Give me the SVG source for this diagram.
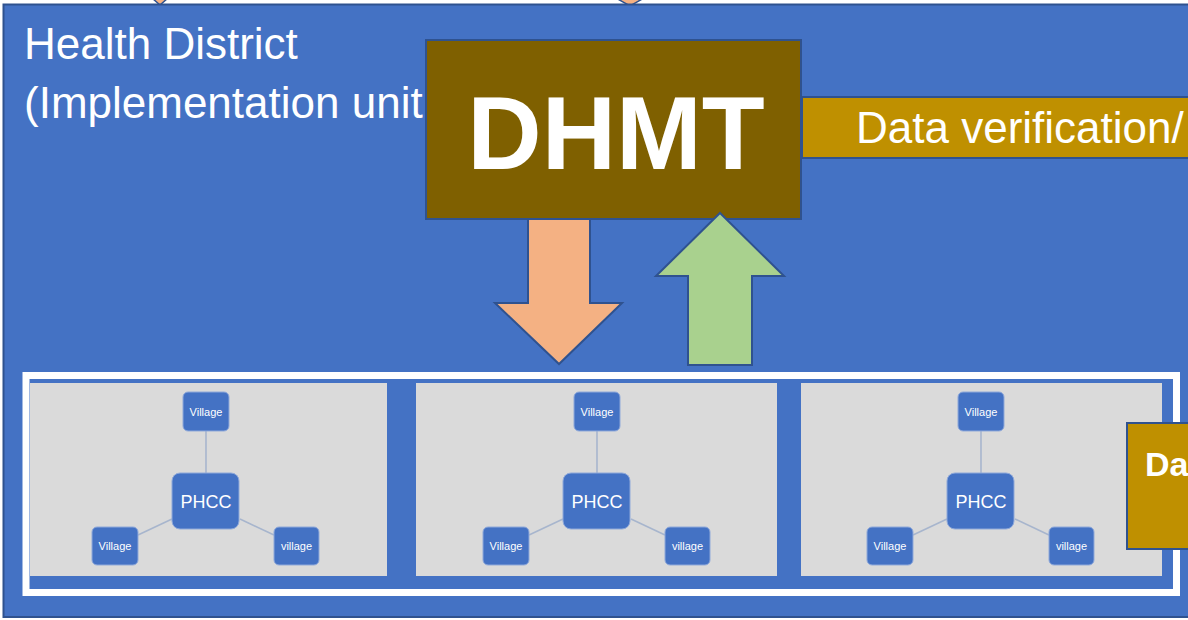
<svg xmlns="http://www.w3.org/2000/svg" width="1188" height="620" viewBox="0 0 1188 620">
<style>
.edge{stroke:#2F528F;stroke-width:2}
.panel{fill:#DADADA}
.vil{fill:#4472C4;stroke:#8FA9DA;stroke-width:1}
.link{stroke:#A7B5CD;stroke-width:1.6;fill:none}
.t{font-family:"Liberation Sans",Arial,sans-serif;fill:#FFFFFF}
.vt{font-size:11px;text-anchor:middle}
.pt{font-size:18px;text-anchor:middle}
</style>
<defs>
<g id="star">
<g class="link">
<line x1="206" y1="431" x2="206" y2="473"/>
<line x1="172" y1="519" x2="138" y2="535"/>
<line x1="240" y1="519" x2="274" y2="535"/>
</g>
<rect class="vil" x="183" y="392" width="46" height="39" rx="5"/>
<text class="t vt" x="206" y="415.5">Village</text>
<rect class="vil" x="172" y="473" width="67" height="56" rx="8"/>
<text class="t pt" x="206" y="507.5">PHCC</text>
<rect class="vil" x="92" y="527" width="46" height="38" rx="5"/>
<text class="t vt" x="115" y="550">Village</text>
<rect class="vil" x="274" y="527" width="45" height="38" rx="5"/>
<text class="t vt" x="296.5" y="550">village</text>
</g>
</defs>
<rect x="0" y="0" width="1188" height="620" fill="#FFFFFF"/>
<g id="top-arrow-tips">
<polygon points="152,-2 168,-2 160,5" fill="#F4B183" stroke="#2F528F" stroke-width="1.5"/>
<polygon points="616,-2 644,-2 630,6" fill="#F4B183" stroke="#2F528F" stroke-width="1.5"/>
</g>
<g id="health-district">
<rect x="3.5" y="4.5" width="1200" height="612.5" fill="#4472C4" class="edge"/>
<text class="t" x="24" y="59" font-size="44">Health District</text>
<text class="t" x="24" y="118" font-size="44">(Implementation unit</text>
</g>
<g id="phcc-frame">
<rect x="26" y="375.5" width="1150.5" height="217" fill="none" stroke="#FFFFFF" stroke-width="7"/>
</g>
<g id="panel-1">
<rect class="panel" x="30" y="383" width="357" height="193"/>
<use href="#star"/>
</g>
<g id="panel-2">
<rect class="panel" x="416" y="383" width="361" height="193"/>
<use href="#star" x="391"/>
</g>
<g id="panel-3">
<rect class="panel" x="801" y="383" width="361" height="193"/>
<use href="#star" x="775"/>
</g>
<g id="data-verification">
<rect x="802" y="97" width="420" height="61" fill="#BF9000" class="edge"/>
<text class="t" x="856" y="143" font-size="44">Data verification/</text>
</g>
<g id="connectors">
<polygon points="528,219 590,219 590,303 622,303 559,364 495,303 528,303" fill="#F4B183" class="edge"/>
</g>
<g id="dhmt">
<rect x="426" y="40" width="375" height="179" fill="#7F6000" class="edge"/>
<text class="t" x="616" y="169" font-size="103" font-weight="bold" text-anchor="middle">DHMT</text>
</g>
<g id="connectors-up">
<polygon points="720,213 784,276 752,276 752,365 688,365 688,276 656,276" fill="#A9D18E" class="edge"/>
</g>
<g id="data-box">
<rect x="1127" y="423" width="100" height="126" fill="#BF9000" class="edge"/>
<text class="t" x="1145" y="476" font-size="34" font-weight="bold">Da</text>
</g>
</svg>
